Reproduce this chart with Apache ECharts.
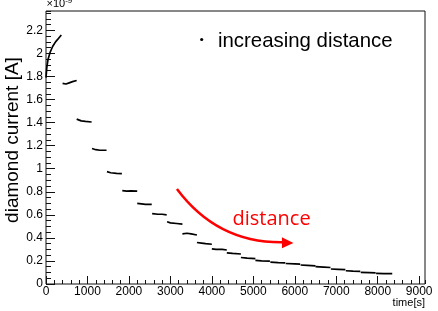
<!DOCTYPE html>
<html>
<head>
<meta charset="utf-8">
<script src="https://cdn.jsdelivr.net/npm/echarts@6/dist/echarts.min.js"></script>
<style>html,body{margin:0;padding:0;background:#fff;}#c{width:438px;height:311px;}</style>
</head>
<body>
<div id="c"></div>
<script>
// ---- data (current in units of 1e-9 A, time in s) ----
const stepTimes = [
  [0, 20, 50, 100, 160, 230, 300, 370],
  [400, 480, 560, 600, 640, 740],
  [740, 850, 950, 1100],
  [1110, 1200, 1300, 1460],
  [1470, 1560, 1700, 1830],
  [1840, 1950, 2050, 2200],
  [2200, 2300, 2400, 2550],
  [2560, 2700, 2800, 2910],
  [2920, 3000, 3150, 3290],
  [3290, 3400, 3500, 3640],
  [3640, 3750, 3850, 4000],
  [4000, 4100, 4250, 4360],
  [4360, 4500, 4700],
  [4700, 4850, 5050],
  [5050, 5200, 5400],
  [5410, 5600, 5770],
  [5780, 6000, 6130],
  [6140, 6300, 6500],
  [6500, 6700, 6860],
  [6870, 7050, 7220],
  [7230, 7400, 7580],
  [7590, 7800, 7950],
  [7960, 8150, 8350]
];
const stepCurrents = [
  [1.79, 1.88, 1.95, 2.01, 2.06, 2.10, 2.13, 2.16],
  [1.74, 1.735, 1.745, 1.76, 1.755, 1.765],
  [1.43, 1.415, 1.41, 1.405],
  [1.175, 1.165, 1.16, 1.16],
  [0.975, 0.965, 0.96, 0.958],
  [0.81, 0.805, 0.808, 0.805],
  [0.70, 0.695, 0.69, 0.69],
  [0.61, 0.605, 0.605, 0.60],
  [0.54, 0.53, 0.525, 0.52],
  [0.435, 0.44, 0.435, 0.425],
  [0.36, 0.355, 0.35, 0.345],
  [0.305, 0.30, 0.30, 0.295],
  [0.27, 0.265, 0.26],
  [0.23, 0.225, 0.22],
  [0.205, 0.20, 0.198],
  [0.19, 0.186, 0.183],
  [0.178, 0.175, 0.172],
  [0.165, 0.162, 0.158],
  [0.15, 0.147, 0.143],
  [0.13, 0.127, 0.124],
  [0.115, 0.112, 0.11],
  [0.10, 0.098, 0.096],
  [0.092, 0.09, 0.09]
];
const xMin = 0, xMax = 9140, xMajor = 1000, xMinor = 200;
const yMin = 0, yMax = 2.368, yMajor = 0.2, yMinor = 0.05;
const legendText = 'increasing distance';
const arrowLabel = 'distance';
const xTitle = 'time[s]';
const yTitle = 'diamond current [A]';
// annotation arrow in data coordinates: start, control, end, tip, base1, base2
const arrowPath = [[3158, 0.824], [4147, 0.347], [5760, 0.362]];
const arrowHead = [[5967, 0.356], [5690, 0.405], [5690, 0.31]];
const arrowTextPos = [4497, 0.564];

const FONT = 'Liberation Sans, Arial, Helvetica, sans-serif';
const chart = echarts.init(document.getElementById('c'), null, {renderer: 'canvas'});

const series = stepTimes.map((ts, i) => ({
  type: 'line',
  xAxisIndex: 0, yAxisIndex: 0,
  data: ts.map((t, j) => [t, stepCurrents[i][j]]),
  showSymbol: false,
  symbol: 'none',
  smooth: false,
  lineStyle: {color: '#000', width: 1.7},
  silent: true,
  animation: false
}));

const axisCommon = {
  type: 'value',
  splitLine: {show: false},
  axisLine: {show: false}
};

chart.setOption({
  animation: false,
  grid: {left: 46, top: 11, right: 13, bottom: 27, show: true, borderColor: '#111', borderWidth: 1, backgroundColor: 'transparent'},
  xAxis: [
    Object.assign({}, axisCommon, {
      min: xMin, max: xMax, interval: xMajor,
      axisTick: {inside: true, length: 8, lineStyle: {color: '#111'}},
      axisLabel: {color: '#000', fontSize: 12, fontFamily: FONT, margin: 2, showMaxLabel: false,
        formatter: v => String(Math.round(v))}
    }),
    Object.assign({}, axisCommon, {
      min: xMin, max: xMax, interval: xMinor, position: 'bottom',
      axisTick: {inside: true, length: 4, lineStyle: {color: '#111'}},
      axisLabel: {show: false}
    })
  ],
  yAxis: [
    Object.assign({}, axisCommon, {
      min: yMin, max: yMax, interval: yMajor,
      axisTick: {inside: true, length: 9, lineStyle: {color: '#111'}},
      axisLabel: {color: '#000', fontSize: 12, fontFamily: FONT, margin: 3, showMaxLabel: false,
        formatter: v => (Math.round(v * 10) / 10).toString()}
    }),
    Object.assign({}, axisCommon, {
      min: yMin, max: yMax, interval: yMinor, position: 'left',
      axisTick: {inside: true, length: 5, lineStyle: {color: '#111'}},
      axisLabel: {show: false}
    })
  ],
  series: series
});

const P = p => chart.convertToPixel({gridIndex: 0}, p);
const a0 = P(arrowPath[0]), a1 = P(arrowPath[1]), a2 = P(arrowPath[2]);
const h = arrowHead.map(P);
const tp = P(arrowTextPos);

chart.setOption({
  graphic: [
    {type: 'bezierCurve', shape: {x1: a0[0], y1: a0[1], cpx1: a1[0], cpy1: a1[1], x2: a2[0], y2: a2[1]},
     style: {stroke: '#ff0000', lineWidth: 2.5, fill: null}, silent: true},
    {type: 'polygon', shape: {points: h}, style: {fill: '#ff0000'}, silent: true},
    {type: 'text', x: tp[0], y: tp[1], style: {text: arrowLabel, fill: '#ff0000', font: '20px "Open Sans", sans-serif', align: 'left', verticalAlign: 'middle'}, silent: true},
    {type: 'circle', shape: {cx: 201.7, cy: 39.5, r: 1.6}, style: {fill: '#000'}, silent: true},
    {type: 'text', x: 218, y: 41, style: {text: legendText, fill: '#000', font: '20.4px ' + FONT, align: 'left', verticalAlign: 'middle'}, silent: true},
    {type: 'text', x: 13, y: 140, rotation: Math.PI / 2, style: {text: yTitle, fill: '#000', font: '19px ' + FONT, align: 'center', verticalAlign: 'middle'}, silent: true},
    {type: 'text', x: 425, y: 303, style: {text: xTitle, fill: '#000', font: '11px ' + FONT, align: 'right', verticalAlign: 'middle'}, silent: true},
    {type: 'text', x: 46.5, y: 11, style: {text: '×10{s|-9}', fill: '#000', font: '11px ' + FONT, align: 'left', verticalAlign: 'bottom',
      rich: {s: {fontSize: 8, fontFamily: FONT, fill: '#000', verticalAlign: 'top', padding: [0, 0, 6, 0]}}}, silent: true}
  ]
});
</script>
</body>
</html>
